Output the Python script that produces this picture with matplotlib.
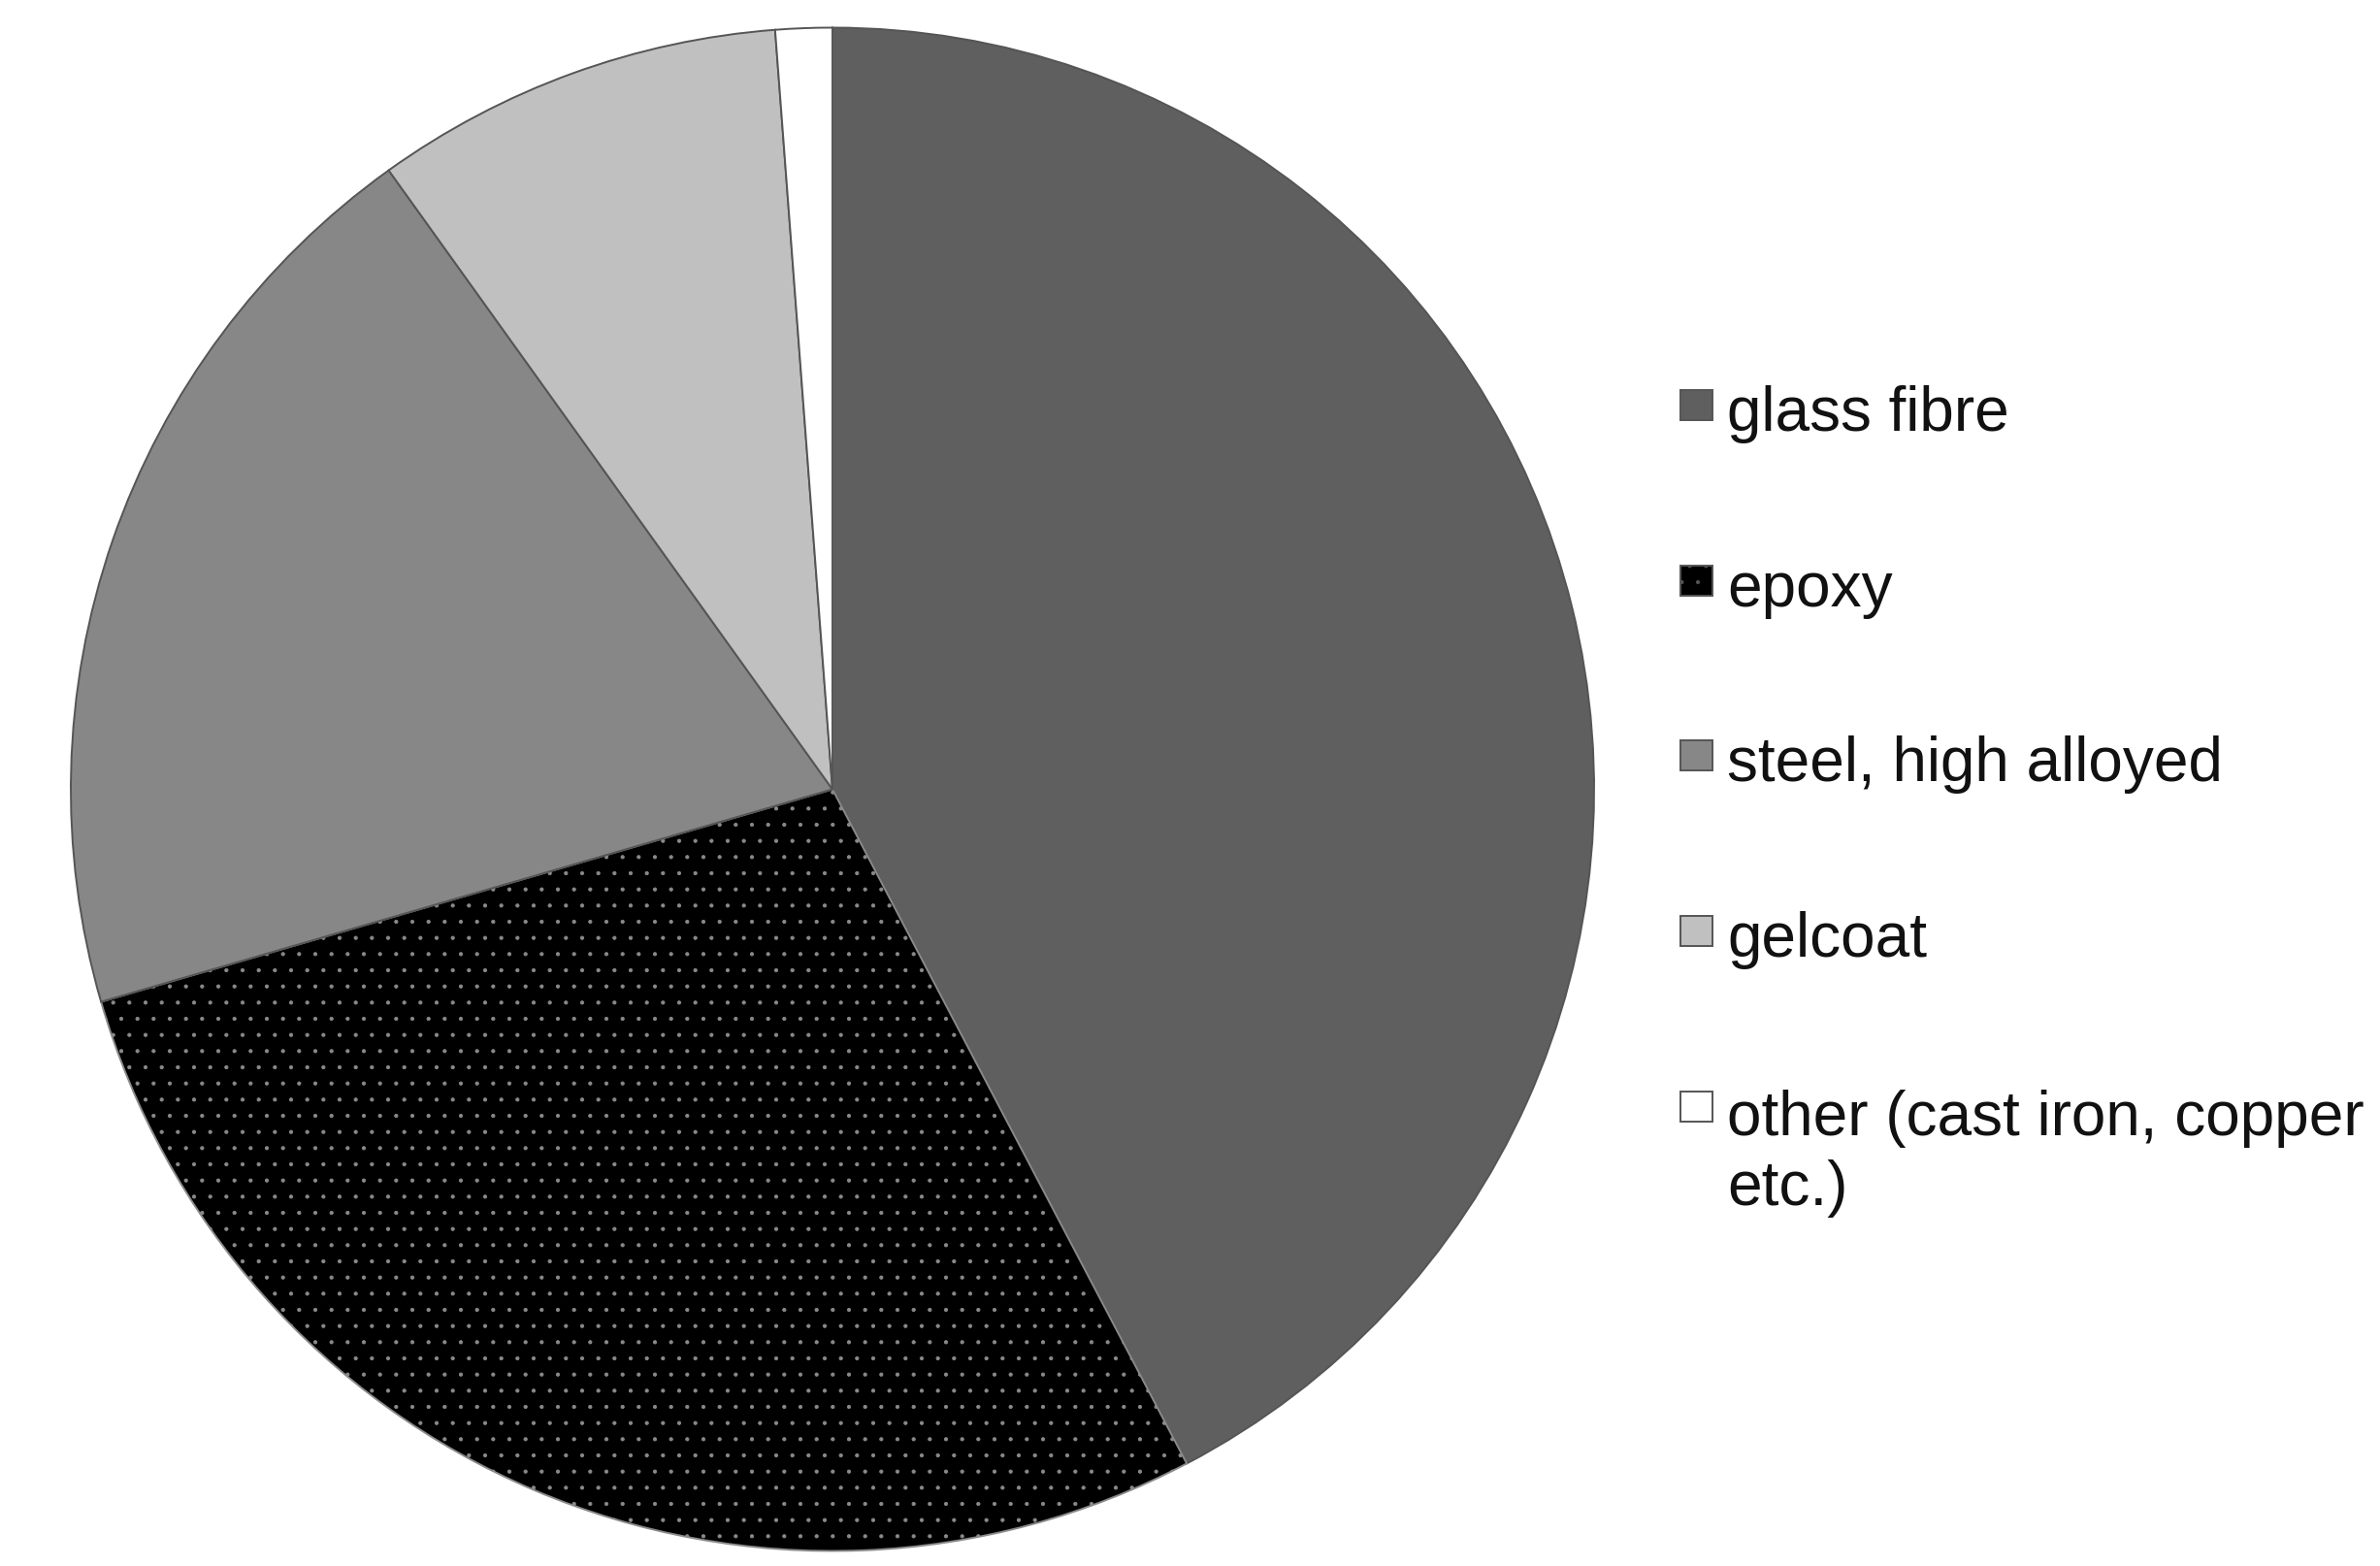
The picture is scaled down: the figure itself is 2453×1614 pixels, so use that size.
import matplotlib
matplotlib.use("Agg")
import matplotlib.pyplot as plt
from matplotlib.patches import Rectangle

labels = ["glass fibre", "epoxy", "steel, high alloyed", "gelcoat",
          "other (cast iron, copper\netc.)"]
shares = [42.3, 28.2, 19.6, 8.7, 1.2]
colors = ["#5f5f5f", "#000000", "#878787", "#c0c0c0", "#ffffff"]
hatches = [None, ".", None, None, None]

plt.rcParams['font.family'] = ['Liberation Sans', 'DejaVu Sans']
plt.rcParams['hatch.color'] = '#8a8a8a'
plt.rcParams['hatch.linewidth'] = 0.6

W, H = 2453, 1614
fig = plt.figure(figsize=(W / 100, H / 100), dpi=100)
cx, cy, r = 858, 813.5, 785
ax = fig.add_axes([(cx - r) / W, (H - cy - r) / H, 2 * r / W, 2 * r / H])
wedges, _ = ax.pie(shares, colors=colors, startangle=90, counterclock=False,
                   radius=1, wedgeprops=dict(edgecolor='#555555', linewidth=1.4))
for w, h in zip(wedges, hatches):
    if h:
        w.set_hatch(h)
        if hasattr(w, "set_hatchcolor"):
            w.set_hatchcolor('#8a8a8a')
        else:
            w.set_edgecolor('#8a8a8a')
ax.set_xlim(-1, 1)
ax.set_ylim(-1, 1)
ax.set_aspect('equal')
ax.axis('off')

# legend (manual)
step = 180.7
line_gap = 75
for i, (lab, col, h) in enumerate(zip(labels, colors, hatches)):
    top = 402 + i * step
    rect = Rectangle((1732 / W, 1 - (top + 31) / H), 33 / W, 31 / H,
                     transform=fig.transFigure, facecolor=col,
                     edgecolor='#555555', linewidth=1.4, hatch=h)
    if h and hasattr(rect, "set_hatchcolor"):
        rect.set_hatchcolor('#8a8a8a')
    fig.patches.append(rect)
    nlines = lab.count("\n")
    base = 444 + i * step + nlines * line_gap
    fig.text(1780 / W, 1 - base / H, lab, fontsize=46,
             va='baseline', ha='left', color='#111111', linespacing=1.25)

fig.savefig("out.png", dpi=100)
